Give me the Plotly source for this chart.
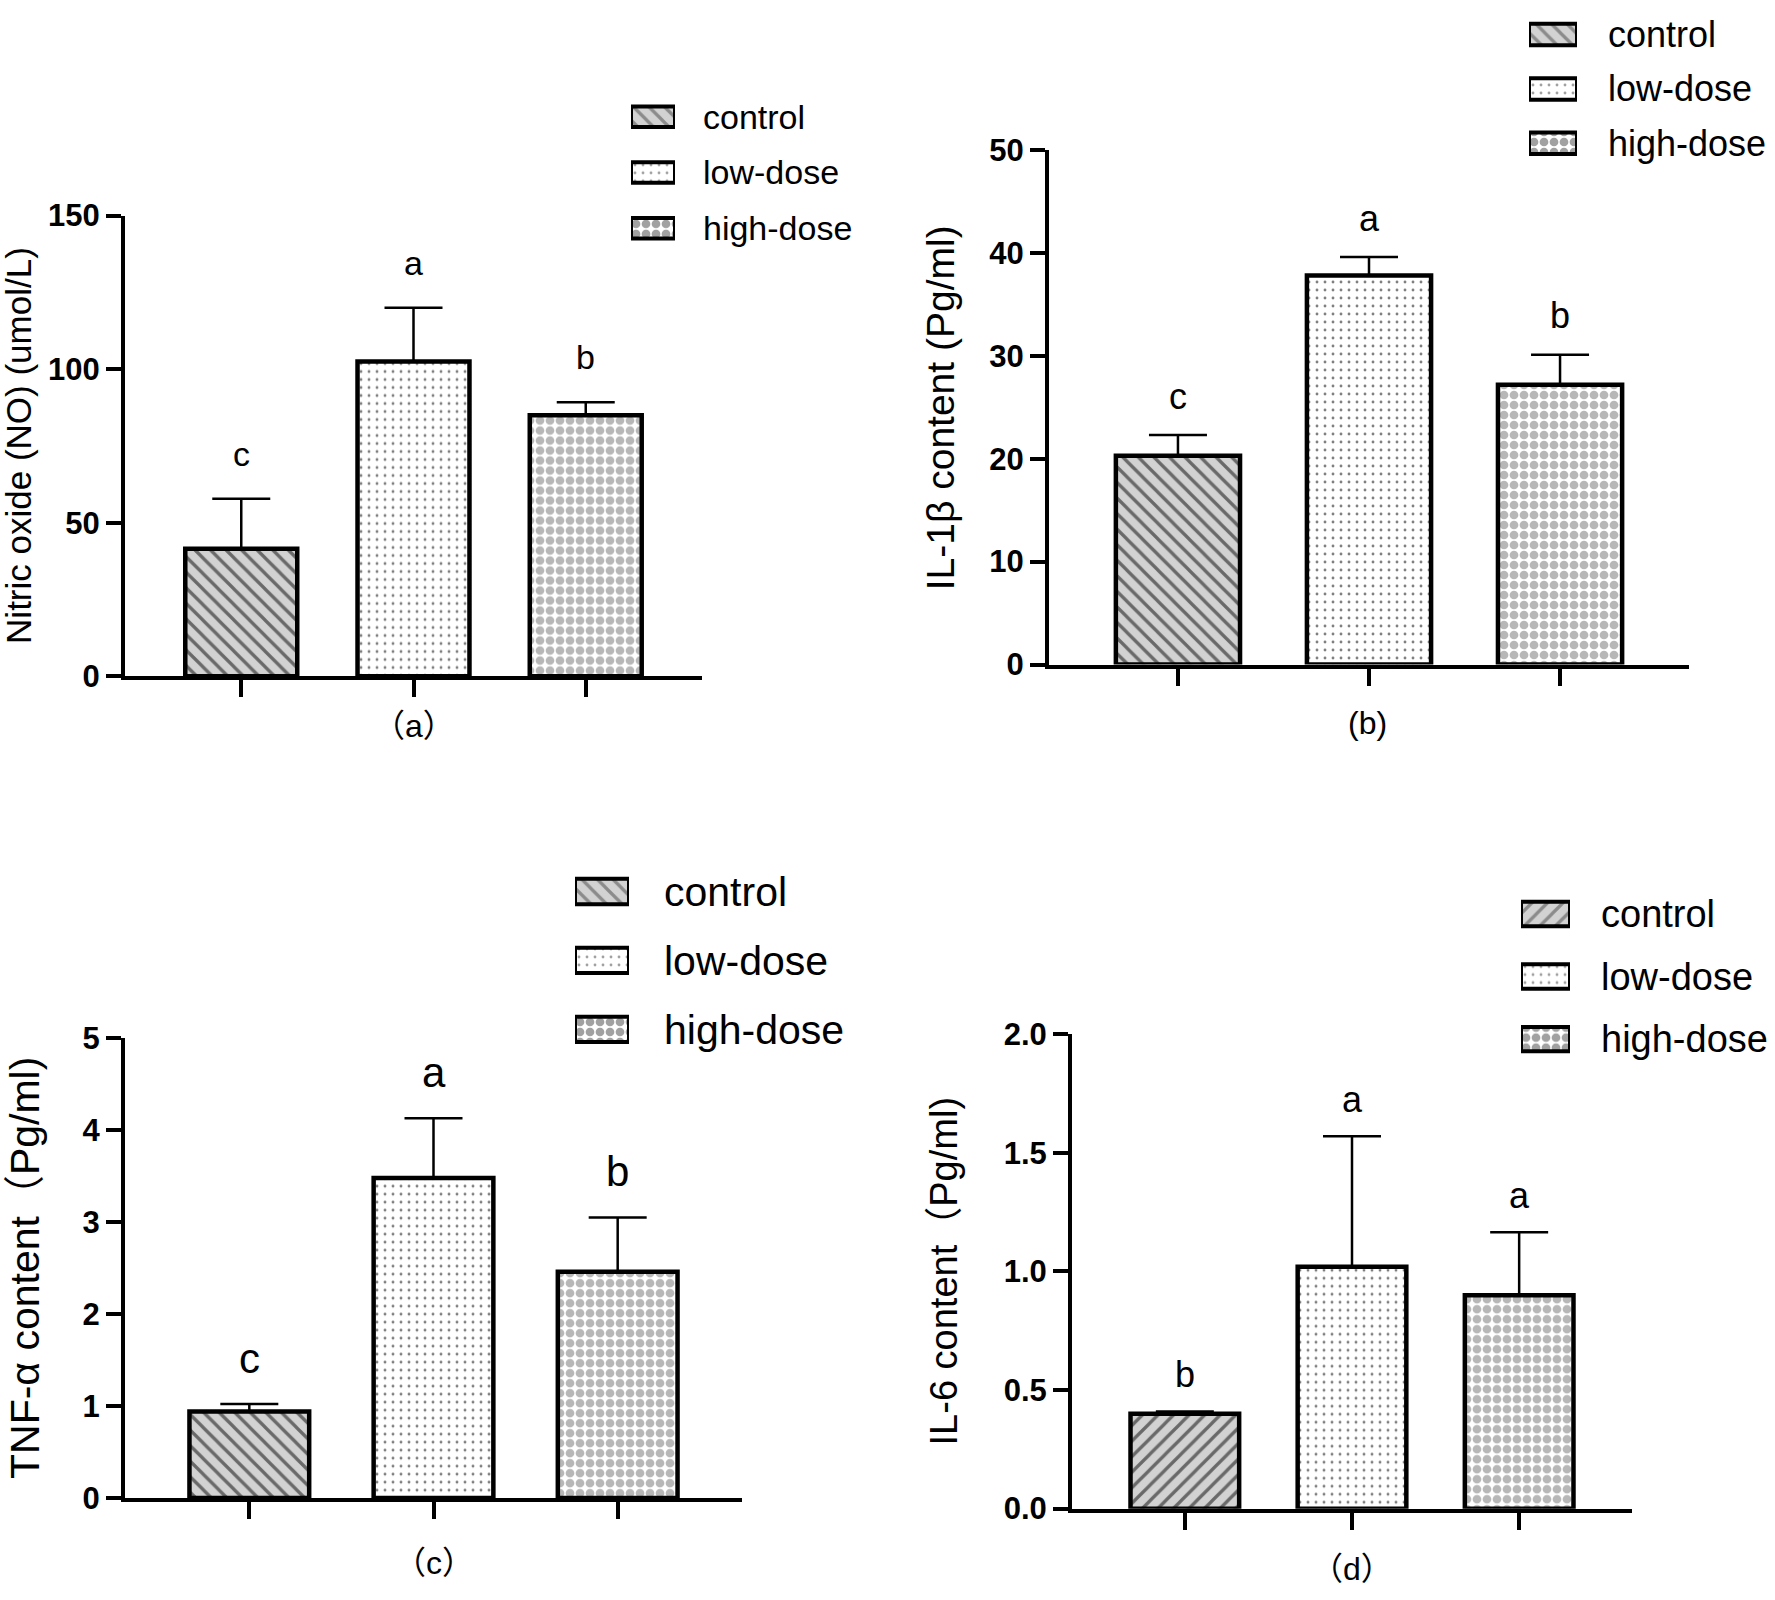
import plotly.graph_objects as go

# group names and means / SD
groups = ["control", "low-dose", "high-dose"]

no_mean = [41.5, 102.5, 85.0]
no_sd = [16.3, 17.5, 4.2]
no_letters = ["c", "a", "b"]

il1b_mean = [20.3, 37.8, 27.2]
il1b_sd = [2.0, 1.8, 2.9]
il1b_letters = ["c", "a", "b"]

tnf_mean = [0.94, 3.48, 2.46]
tnf_sd = [0.08, 0.65, 0.59]
tnf_letters = ["c", "a", "b"]

il6_mean = [0.40, 1.02, 0.90]
il6_sd = [0.01, 0.55, 0.265]
il6_letters = ["b", "a", "a"]

W, H = 1775, 1600
FONT = "Liberation Sans, Arial, sans-serif"
CJK = "Liberation Sans, Noto Sans CJK SC, sans-serif"


def px_x(p):
    return p / W


def px_y(p):
    return 1 - p / H


def patterns(ctrl_shape):
    return [
        dict(shape=ctrl_shape, bgcolor="#d2d2d2", fgcolor="black", size=11, solidity=0.3),
        dict(shape=".", bgcolor="white", fgcolor="black", size=8, solidity=0.1),
        dict(shape=".", bgcolor="white", fgcolor="#707070", size=10, solidity=0.6),
    ]


# panel setup: data, plot box in pixels, key (swatch) box and styling
panels = [
    dict(mean=no_mean, sd=no_sd, letters=no_letters, box=(125, 702, 203, 674),
         yrange=[0, 150], dtick=50, fmt="d", ytitle="Nitric oxide (NO) (umol/L)", tsize=35, tx=19,
         caption="（a）", cap_y=725, letter_size=34, shift=45, ctrl="\\",
         key_x=(631, 675), key_rows=(102, 216), key_h=21, key_gap=27, key_size=34),
    dict(mean=il1b_mean, sd=il1b_sd, letters=il1b_letters, box=(1049, 1689, 136, 662),
         yrange=[0, 50], dtick=10, fmt="d", ytitle="IL-1β content (Pg/ml)", tsize=39, tx=940,
         caption="(b)", cap_y=722, letter_size=36, shift=39, ctrl="\\",
         key_x=(1529, 1577), key_rows=(18, 129), key_h=22, key_gap=30, key_size=36),
    dict(mean=tnf_mean, sd=tnf_sd, letters=tnf_letters, box=(125, 742, 1044, 1514),
         yrange=[0, 5], dtick=1, fmt="d", ytitle="TNF-α content（Pg/ml)", tsize=41, tx=25,
         caption="（c）", cap_y=1581, letter_size=42, shift=46, ctrl="\\",
         key_x=(575, 629), key_rows=(894, 1035), key_h=26, key_gap=34, key_size=41),
    dict(mean=il6_mean, sd=il6_sd, letters=il6_letters, box=(1072, 1632, 1040, 1525),
         yrange=[0, 2], dtick=0.5, fmt=".1f", ytitle="IL-6 content（Pg/ml)", tsize=38, tx=944,
         caption="（d）", cap_y=1587, letter_size=36, shift=37, ctrl="/",
         key_x=(1521, 1570), key_rows=(917, 1045), key_h=25, key_gap=30, key_size=38),
]

fig = go.Figure()
annotations = []

for k, p in enumerate(panels):
    n = "" if k == 0 else str(k + 1)
    pats = patterns(p["ctrl"])
    for i, g in enumerate(groups):
        fig.add_trace(go.Bar(
            x=[g], y=[p["mean"][i]], name=g, width=0.65,
            xaxis="x" + n, yaxis="y" + n, showlegend=False,
            marker=dict(color=pats[i]["bgcolor"], pattern=pats[i],
                        line=dict(color="black", width=4.5)),
            error_y=dict(type="data", array=[p["sd"][i]], arrayminus=[0], symmetric=False,
                         color="black", thickness=2.5, width=29),
        ))
        annotations.append(dict(
            x=g, y=p["mean"][i] + p["sd"][i], xref="x" + n, yref="y" + n,
            text=p["letters"][i], showarrow=False, yshift=p["shift"], yanchor="middle",
            font=dict(family=FONT, size=p["letter_size"], color="black"),
        ))

    x0, x1, y0, y1 = p["box"]
    axis_common = dict(showline=True, linecolor="black", linewidth=4, mirror=False,
                       showgrid=False, zeroline=False, ticks="outside", tickcolor="black",
                       tickwidth=4, ticklen=17)
    fig.layout["xaxis" + n] = dict(
        axis_common, domain=[px_x(x0), px_x(x1)], anchor="y" + n,
        type="category", categoryorder="array", categoryarray=groups,
        range=[-0.675, 2.675], showticklabels=False,
    )
    fig.layout["yaxis" + n] = dict(
        axis_common, domain=[px_y(y1), px_y(y0)], anchor="x" + n,
        range=p["yrange"], dtick=p["dtick"], tick0=0, tickformat=p["fmt"], ticklen=15,
        tickfont=dict(family=FONT, size=31, color="black", weight="bold"),
    )

    # key: one swatch per group in its own small axis, labels as right-hand ticks
    m = str(k + 5)
    r0, r2 = p["key_rows"]
    sp = (r2 - r0) / 2
    top = max(r0 - sp / 2, 0)
    bot = r2 + sp / 2
    fig.add_trace(go.Bar(
        y=groups, x=[1] * len(groups), orientation="h", width=p["key_h"] / sp,
        xaxis="x" + m, yaxis="y" + m, showlegend=False, hoverinfo="skip",
        marker=dict(
            color=[q["bgcolor"] for q in pats],
            pattern=dict(shape=[q["shape"] for q in pats], bgcolor=[q["bgcolor"] for q in pats],
                         fgcolor=[q["fgcolor"] for q in pats], size=[q["size"] for q in pats],
                         solidity=[q["solidity"] for q in pats]),
            line=dict(color="black", width=4),
        ),
    ))
    fig.layout["xaxis" + m] = dict(
        domain=[px_x(p["key_x"][0]), px_x(p["key_x"][1])], anchor="y" + m, range=[0, 1],
        visible=False, fixedrange=True,
    )
    fig.layout["yaxis" + m] = dict(
        domain=[px_y(bot), px_y(top)], anchor="x" + m, side="right",
        type="category", categoryorder="array", categoryarray=groups,
        range=[2 + (bot - r2) / sp, -(r0 - top) / sp],
        showline=False, showgrid=False, zeroline=False, ticks="",
        ticklabelstandoff=p["key_gap"], fixedrange=True,
        tickfont=dict(family=FONT, size=p["key_size"], color="black"),
    )

    # y title and panel caption
    annotations.append(dict(
        x=px_x(p["tx"]), y=(px_y(y0) + px_y(y1)) / 2, xref="paper", yref="paper",
        text=p["ytitle"], textangle=-90, showarrow=False, xanchor="center", yanchor="middle",
        font=dict(family=CJK, size=p["tsize"], color="black"),
    ))
    annotations.append(dict(
        x=(px_x(x0) + px_x(x1)) / 2 if k != 1 else px_x(1367), y=px_y(p["cap_y"]),
        xref="paper", yref="paper", text=p["caption"], showarrow=False,
        xanchor="center", yanchor="middle",
        font=dict(family=CJK, size=32, color="black"),
    ))

fig.update_layout(
    width=W, height=H, margin=dict(l=0, r=0, t=0, b=0),
    paper_bgcolor="white", plot_bgcolor="white",
    showlegend=False, annotations=annotations,
)

# drop the page's default body margin so the figure sits at the window's corner
page_js = (
    "document.body.style.margin = '0';"
    "document.documentElement.style.overflow = 'hidden';"
)
fig.write_html("out.html", config={"displayModeBar": False}, post_script=page_js)
